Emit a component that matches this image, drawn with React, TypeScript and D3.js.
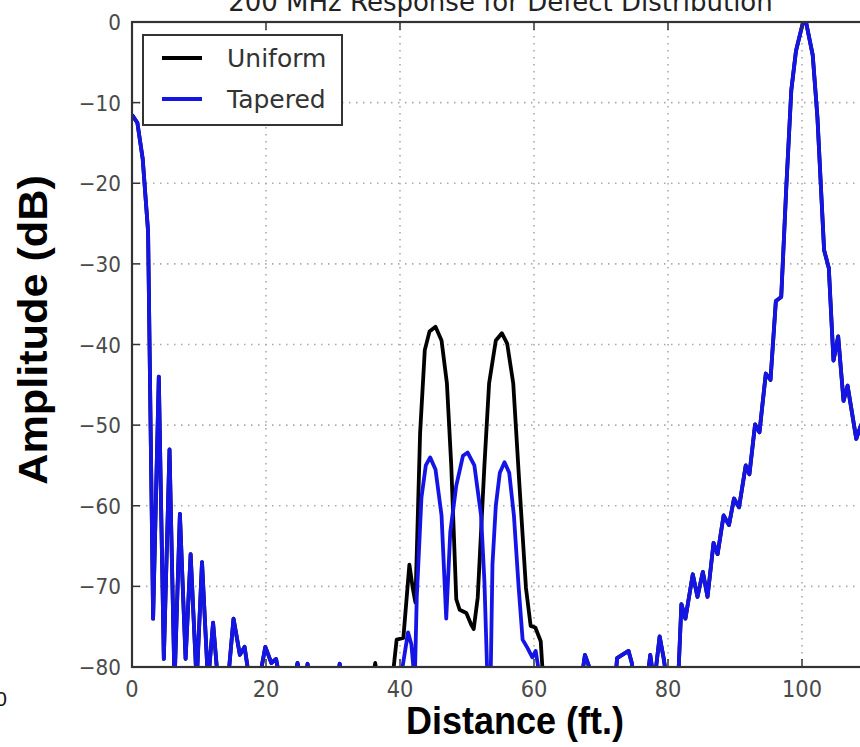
import React from "react";
import * as d3 from "d3";

const title = "200 MHz Response for Defect Distribution";
const xLabel = "Distance (ft.)";
const yLabel = "Amplitude (dB)";
const seriesNames = ["Uniform", "Tapered"];
const xTicks = [0, 20, 40, 60, 80, 100];
const yTicks = [0, -10, -20, -30, -40, -50, -60, -70, -80];

// Tapered response (values below -80 dB are clipped by the axes)
const taperedDistance = [
  0, 0.8, 1.6, 2.4, 3.15, 4.0, 4.75, 5.6, 6.35, 7.15, 8.0, 8.75, 9.65, 10.45, 11.35, 12.1, 12.85, 14.3,
  15.15, 16.1, 16.8, 17.6, 18.9, 19.9, 20.8, 21.5, 22.2, 24.1, 24.7, 25.4, 25.8, 26.2, 26.7, 30.5, 31.0, 31.5, 40.0,
  41.2, 41.7, 42.2, 42.5, 43.2, 43.85, 44.5, 45.3, 46.2, 46.9, 47.5, 48.4, 49.4, 50.1, 51.1, 52.1, 52.6, 53.1, 53.5,
  53.8, 54.3, 54.9, 55.6, 56.3, 57.0, 57.7, 58.3, 59.0, 59.75, 60.25, 61.0,
  67.0, 67.6, 69.1, 72.1, 72.4, 74.1, 74.6, 74.85, 76.85, 77.35, 77.95, 78.75, 79.35, 79.9, 81.5,
  82.0, 82.6, 83.7, 84.4, 85.2, 85.9, 86.8, 87.4, 88.3, 89.1, 89.85, 90.6, 91.6, 92.15, 93.0, 93.65, 94.6, 95.3,
  96.1, 96.9, 97.65, 98.4, 99.1, 100.1, 100.6, 101.6, 102.3, 103.3, 104.0, 104.7, 105.4, 106.2, 106.8, 108.1,
  108.8, 109.5,
];
const taperedAmplitude = [
  -11.5, -12.5, -17, -26, -74, -44, -79, -53, -82, -61, -79, -66, -82, -67, -82, -74.5, -82, -82,
  -74, -78.5, -77.5, -82, -82, -77.5, -79.5, -79, -82, -82, -79.5, -82, -82, -79.6, -82, -82, -79.6, -82, -82,
  -75.7, -77.2, -82, -71.4, -59, -55, -54, -55.5, -61.2, -74, -63.3, -57.5, -53.8, -53.4, -55, -61.2, -69.4, -83, -83,
  -67.3, -60, -55.9, -54.6, -55.9, -61.2, -70, -76.6, -77.6, -78.8, -78, -82,
  -82, -78.5, -82, -82, -78.9, -78, -79.5, -82, -82, -78.5, -82, -76.2, -78.9, -82, -82,
  -72.2, -74, -68.5, -71.3, -68.2, -71.3, -64.6, -66, -61.2, -62.4, -59.1, -60.2, -55, -56.1, -49.9, -50.9, -43.6, -44.4,
  -34.6, -34.1, -20.6, -8.5, -3.6, -0.2, 0, -4.1, -11.8, -28.3, -30.5, -42, -39, -47, -45.1, -51.7,
  -50, -56,
];

// Uniform response: differs from the tapered one between ~36 and ~62 ft
const uniformMidDistance = [
  35.8, 36.3, 36.8, 38.8, 39.5, 40.5, 41.4, 41.9, 42.3, 43.0, 43.7, 44.4, 45.3, 46.2, 47.0, 47.65, 48.4, 48.9,
  49.9, 50.6, 51.0, 51.6, 52.6, 53.3, 54.3, 55.2, 56.0, 56.9, 57.8, 58.8, 59.5, 60.2, 61.0, 61.4,
];
const uniformMidAmplitude = [
  -82, -79.5, -82, -82, -76.6, -76.4, -67.3, -70.2, -72, -51, -40.7, -38.4, -37.8, -39.5, -44.8, -55, -71.6, -72.9,
  -73.3, -74.7, -75.3, -71.4, -55, -44.8, -39.5, -38.6, -39.9, -44.8, -57.1, -70.2, -74.9, -75.1, -76.8, -82,
];

type Pt = [number, number];
const taperedPts: Pt[] = taperedDistance.map((d, i) => [d, taperedAmplitude[i]]);
const uniformPts: Pt[] = [
  ...taperedPts.filter((p) => p[0] < 35.5),
  ...uniformMidDistance.map((d, i) => [d, uniformMidAmplitude[i]] as Pt),
  ...taperedPts.filter((p) => p[0] > 62),
];

const W = 860;
const H = 747;
const left = 132;
const right = 869;
const top = 22;
const bottom = 667;

const tickFont = "'DejaVu Sans', sans-serif";
const labelFont = "'Liberation Sans', Arial, sans-serif";
const blue = "#1414e6";

export default function App() {
  const x = d3.scaleLinear().domain([0, 110]).range([left, right]);
  const y = d3.scaleLinear().domain([-80, 0]).range([bottom, top]);
  const line = d3
    .line<Pt>()
    .x((d) => x(d[0]))
    .y((d) => y(d[1]));

  return (
    <svg
      width={W}
      height={H}
      style={{ position: "absolute", left: 0, top: 0, background: "#fff" }}
    >
      <defs>
        <clipPath id="plotClip">
          <rect x={left} y={top} width={right - left} height={bottom - top} />
        </clipPath>
      </defs>
      <rect x={0} y={0} width={W} height={H} fill="#fff" />

      {/* grid */}
      {xTicks
        .filter((t) => t !== 0)
        .map((t) => (
          <line
            key={"gx" + t}
            x1={x(t)}
            x2={x(t)}
            y1={top}
            y2={bottom}
            stroke="#aaa"
            strokeWidth={1.6}
            strokeDasharray="1.5,5.5"
          />
        ))}
      {yTicks
        .filter((t) => t !== 0 && t !== -80)
        .map((t) => (
          <line
            key={"gy" + t}
            x1={left}
            x2={right}
            y1={y(t)}
            y2={y(t)}
            stroke="#aaa"
            strokeWidth={1.6}
            strokeDasharray="1.5,5.5"
          />
        ))}

      {/* data */}
      <g clipPath="url(#plotClip)">
        <path d={line(uniformPts) || ""} fill="none" stroke="#000" strokeWidth={3.8} strokeLinejoin="round" />
        <path d={line(taperedPts) || ""} fill="none" stroke={blue} strokeWidth={3.8} strokeLinejoin="round" />
      </g>

      {/* ticks (inward, all sides) */}
      {xTicks.map((t) => (
        <g key={"tx" + t}>
          <line x1={x(t)} x2={x(t)} y1={bottom} y2={bottom - 8} stroke="#333" strokeWidth={1.5} />
          <line x1={x(t)} x2={x(t)} y1={top} y2={top + 8} stroke="#333" strokeWidth={1.5} />
        </g>
      ))}
      {yTicks.map((t) => (
        <line key={"ty" + t} x1={left} x2={left + 8} y1={y(t)} y2={y(t)} stroke="#333" strokeWidth={1.5} />
      ))}

      {/* frame */}
      <rect
        x={left}
        y={top}
        width={right - left}
        height={bottom - top}
        fill="none"
        stroke="#333"
        strokeWidth={2.2}
      />

      {/* tick labels */}
      {xTicks.map((t) => (
        <text
          key={"lx" + t}
          transform={`translate(${x(t)},${697}) scale(1,1.1)`}
          textAnchor="middle"
          fontFamily={tickFont}
          fontSize={21}
          fill="#4a4a4a"
        >
          {String(t)}
        </text>
      ))}
      {yTicks.map((t) => (
        <text
          key={"ly" + t}
          transform={`translate(${left - 11},${y(t) + 8}) scale(1,1.1)`}
          textAnchor="end"
          fontFamily={tickFont}
          fontSize={20}
          fill="#4a4a4a"
        >
          {t < 0 ? "\u2212" + Math.abs(t) : String(t)}
        </text>
      ))}

      {/* title (partly cut off at the top) */}
      <text
        x={(left + right) / 2}
        y={11}
        textAnchor="middle"
        fontFamily={tickFont}
        fontSize={26}
        fill="#222"
      >
        {title}
      </text>

      {/* axis labels */}
      <text
        transform={`translate(515,734) scale(1,1.07)`}
        textAnchor="middle"
        fontFamily={labelFont}
        fontWeight="bold"
        fontSize={36}
        fill="#000"
      >
        {xLabel}
      </text>
      <text
        transform={`translate(47,330) rotate(-90) scale(1.08,1)`}
        textAnchor="middle"
        fontFamily={labelFont}
        fontWeight="bold"
        fontSize={40}
        fill="#000"
      >
        {yLabel}
      </text>

      {/* stray fragment at left edge */}
      <text x={7} y={706} textAnchor="end" fontFamily={labelFont} fontSize={21} fill="#111">
        100
      </text>

      {/* legend */}
      <rect x={143} y={35} width={199} height={90} fill="#fff" stroke="#333" strokeWidth={2} />
      {seriesNames.map((name, i) => (
        <g key={name}>
          <line
            x1={162}
            x2={202}
            y1={58 + i * 41}
            y2={58 + i * 41}
            stroke={i === 0 ? "#000" : blue}
            strokeWidth={4}
          />
          <text x={227} y={67 + i * 41} fontFamily={tickFont} fontSize={25} fill="#333">
            {name}
          </text>
        </g>
      ))}
    </svg>
  );
}
